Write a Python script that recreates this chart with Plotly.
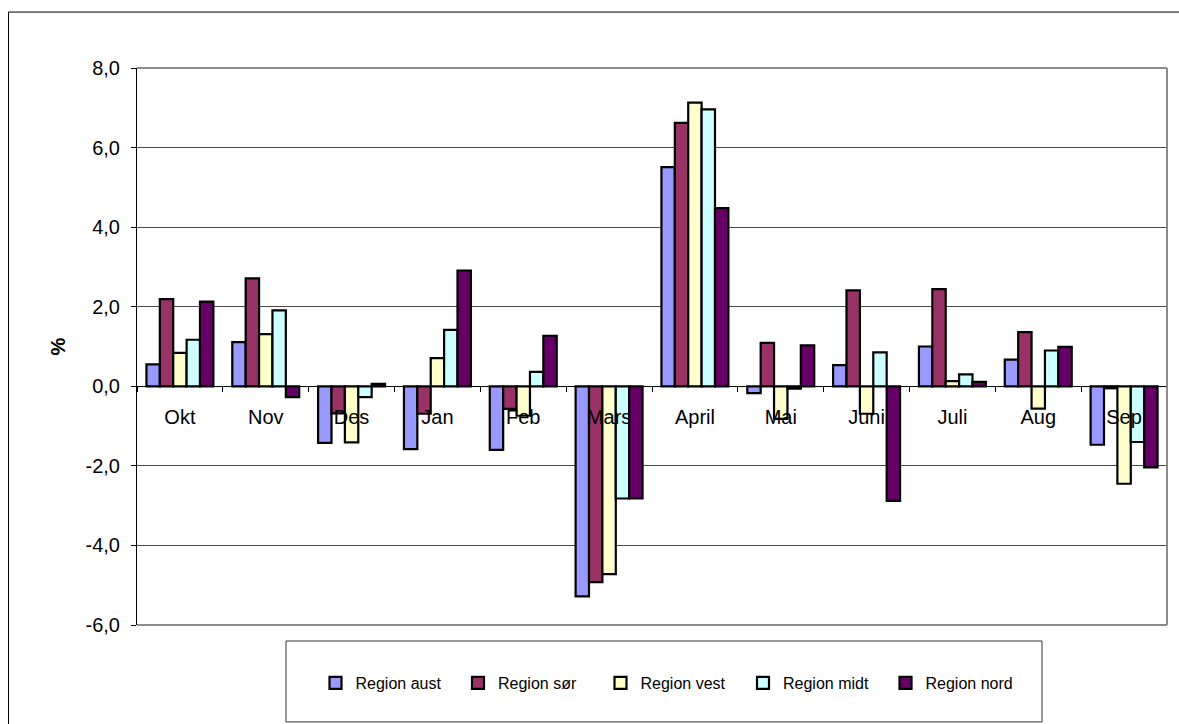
import plotly.graph_objects as go

months = ["Okt", "Nov", "Des", "Jan", "Feb", "Mars", "April", "Mai", "Juni", "Juli", "Aug", "Sep"]
series_names = ["Region aust", "Region sør", "Region vest", "Region midt", "Region nord"]
region_aust = [0.55, 1.11, -1.42, -1.58, -1.60, -5.28, 5.51, -0.17, 0.53, 1.00, 0.67, -1.47]
region_sor = [2.19, 2.71, -0.68, -0.69, -0.57, -4.92, 6.62, 1.09, 2.41, 2.44, 1.36, -0.05]
region_vest = [0.84, 1.31, -1.41, 0.71, -0.74, -4.72, 7.13, -0.82, -0.69, 0.13, -0.56, -2.45]
region_midt = [1.17, 1.91, -0.27, 1.42, 0.36, -2.82, 6.96, -0.06, 0.85, 0.30, 0.90, -1.40]
region_nord = [2.13, -0.27, 0.06, 2.91, 1.27, -2.82, 4.48, 1.03, -2.88, 0.11, 0.99, -2.04]
colors = ["#9999FF", "#993366", "#FFFFCC", "#CCFFFF", "#660066"]
y_ticks = [-6, -4, -2, 0, 2, 4, 6, 8]
y_ticktext = ["-6,0", "-4,0", "-2,0", "0,0", "2,0", "4,0", "6,0", "8,0"]

W, H = 1179, 724
# plot area in page pixels
L, R, T, B = 137, 1167, 67.5, 625
pw, ph = R - L, B - T

def px(x):
    return (x - L) / pw

def py(y):
    return (B - y) / ph

fig = go.Figure()
for name, vals, col in zip(series_names,
                           [region_aust, region_sor, region_vest, region_midt, region_nord],
                           colors):
    fig.add_trace(go.Bar(x=months, y=vals, name=name,
                         marker=dict(color=col, line=dict(color="black", width=2.2))))

font = "Arial, Liberation Sans, sans-serif"
fig.update_layout(
    width=W, height=H,
    margin=dict(l=L, r=W - R, t=T, b=H - B),
    paper_bgcolor="white", plot_bgcolor="white",
    barmode="group", bargap=0.22, bargroupgap=0,
    font=dict(family=font, size=20, color="black"),
    showlegend=True,
    legend=dict(orientation="h", x=px(672), xanchor="center", y=py(683), yanchor="middle",
                font=dict(size=16, family=font), bgcolor="rgba(0,0,0,0)",
                entrywidth=97.5, itemwidth=30, traceorder="normal"),
    xaxis=dict(anchor="free", position=6 / 14, showline=False, ticks="outside",
               tickson="boundaries", ticklen=5, tickcolor="black", showgrid=False,
               ticklabelstandoff=17, tickfont=dict(size=20)),
    yaxis=dict(range=[-6, 8], tickvals=y_ticks, ticktext=y_ticktext, showgrid=True,
               gridcolor="#4a4a4a", gridwidth=1, zeroline=True, zerolinecolor="black",
               zerolinewidth=1, showline=True, linecolor="black", linewidth=1,
               ticks="outside", ticklen=5, tickcolor="black", ticklabelstandoff=7,
               tickfont=dict(size=20),
               title=dict(text="<b>%</b>", font=dict(size=20), standoff=14)),
    shapes=[
        dict(type="line", xref="paper", yref="paper", x0=0, x1=1, y0=1, y1=1,
             line=dict(color="#8c8c8c", width=2)),
        dict(type="line", xref="paper", yref="paper", x0=1, x1=1, y0=0, y1=1,
             line=dict(color="#8c8c8c", width=2)),
        dict(type="line", xref="paper", yref="paper", x0=0, x1=1, y0=0, y1=0,
             line=dict(color="#8c8c8c", width=2)),
        dict(type="rect", xref="paper", yref="paper", x0=px(286), x1=px(1042),
             y0=py(722), y1=py(641), line=dict(color="#333333", width=1)),
        dict(type="line", xref="paper", yref="paper", x0=px(8.5), x1=px(8.5),
             y0=py(740), y1=py(11.5), line=dict(color="black", width=1)),
        dict(type="line", xref="paper", yref="paper", x0=px(8.5), x1=px(1185),
             y0=py(11.5), y1=py(11.5), line=dict(color="black", width=1)),
    ],
)

fig.write_html(
    "out.html",
    config={"displayModeBar": False},
    post_script="document.body.style.margin='0';"
                "document.documentElement.style.overflow='hidden';"
                "document.body.style.overflow='hidden';",
)
